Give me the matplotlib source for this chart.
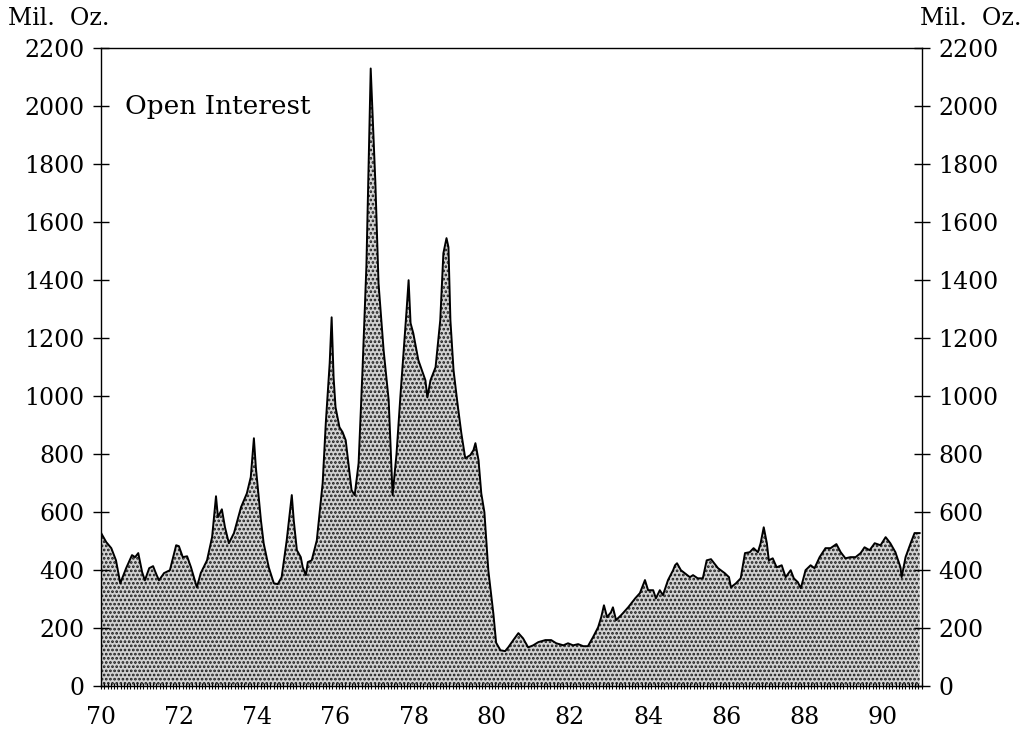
import numpy as np
import matplotlib
matplotlib.use("Agg")
import matplotlib.pyplot as plt

plt.rcParams['font.family'] = ['DejaVu Serif']
plt.rcParams['hatch.linewidth'] = 1.3

# open interest, million ounces
years = [70.00, 70.13, 70.26, 70.38, 70.49, 70.64, 70.79, 70.87, 70.95, 71.05,
         71.12, 71.23, 71.33, 71.40, 71.48, 71.61, 71.76, 71.92, 71.99, 72.09,
         72.20, 72.30, 72.45, 72.55, 72.71, 72.84, 72.94, 72.99, 73.09, 73.17,
         73.27, 73.40, 73.58, 73.73, 73.83, 73.91, 73.96, 74.09, 74.16, 74.29,
         74.42, 74.52, 74.62, 74.75, 74.88, 74.93, 75.01, 75.11, 75.16, 75.24,
         75.29, 75.39, 75.52, 75.67, 75.75, 75.85, 75.90, 75.95, 76.00, 76.10,
         76.18, 76.26, 76.33, 76.41, 76.49, 76.59, 76.69, 76.79, 76.90, 77.02,
         77.10, 77.23, 77.36, 77.46, 77.56, 77.66, 77.74, 77.82, 77.87, 77.92,
         77.99, 78.12, 78.30, 78.35, 78.43, 78.56, 78.68, 78.76, 78.84, 78.89,
         78.94, 79.02, 79.12, 79.22, 79.32, 79.45, 79.53, 79.58, 79.66, 79.73,
         79.81, 79.91, 80.04, 80.11, 80.22, 80.34, 80.42, 80.55, 80.68, 80.80,
         80.93, 81.06, 81.19, 81.37, 81.52, 81.65, 81.83, 81.95, 82.08, 82.21,
         82.34, 82.46, 82.59, 82.72, 82.80, 82.87, 82.95, 83.05, 83.10, 83.18,
         83.31, 83.49, 83.67, 83.79, 83.92, 84.00, 84.13, 84.20, 84.30, 84.38,
         84.51, 84.64, 84.69, 84.74, 84.84, 85.07, 85.15, 85.27, 85.40, 85.50,
         85.61, 85.79, 85.96, 86.07, 86.12, 86.25, 86.37, 86.48, 86.60, 86.70,
         86.81, 86.88, 86.96, 87.04, 87.09, 87.19, 87.29, 87.42, 87.52, 87.65,
         87.73, 87.83, 87.91, 88.03, 88.16, 88.26, 88.39, 88.54, 88.67, 88.82,
         88.93, 89.05, 89.18, 89.31, 89.44, 89.54, 89.67, 89.80, 89.95, 90.08,
         90.20, 90.33, 90.46, 90.49, 90.59, 90.72, 90.82, 90.87, 90.95]
open_interest = [528, 497, 476, 434, 355, 407, 452, 445, 459, 393,
                 365, 407, 414, 390, 365, 390, 400, 486, 483, 445,
                 448, 410, 341, 390, 434, 514, 655, 583, 610, 548,
                 493, 528, 617, 665, 721, 855, 755, 572, 493, 410,
                 355, 352, 376, 503, 659, 572, 469, 445, 410, 383,
                 428, 434, 503, 700, 907, 1114, 1272, 1065, 962, 893,
                 876, 848, 769, 676, 659, 769, 1090, 1450, 2130, 1734,
                 1390, 1159, 986, 659, 800, 1000, 1150, 1300, 1400, 1252,
                 1217, 1124, 1055, 996, 1055, 1100, 1262, 1493, 1545, 1514,
                 1262, 1090, 976, 872, 786, 797, 814, 838, 779, 665,
                 600, 400, 250, 150, 124, 121, 134, 159, 183, 165,
                 134, 141, 152, 159, 159, 148, 141, 148, 141, 145,
                 138, 138, 169, 203, 238, 279, 238, 255, 272, 228,
                 245, 272, 303, 321, 366, 331, 331, 303, 331, 314,
                 366, 400, 417, 424, 400, 376, 383, 372, 372, 434,
                 438, 407, 390, 376, 341, 355, 372, 459, 462, 476,
                 462, 493, 548, 493, 434, 441, 410, 417, 376, 400,
                 372, 359, 338, 400, 417, 407, 445, 476, 476, 490,
                 462, 441, 445, 445, 459, 479, 469, 493, 486, 514,
                 493, 462, 410, 376, 445, 493, 528, 528, 528]

year_labels = ['70', '72', '74', '76', '78', '80', '82', '84', '86', '88', '90']
y_ticks = list(range(0, 2201, 200))

fig = plt.figure(figsize=(10.32, 7.30), dpi=100)
ax = fig.add_axes([0.098, 0.060, 0.795, 0.874])

ax.fill_between(years, open_interest, 0, facecolor='#d2d2d2', edgecolor='#1a1a1a',
                hatch='....', linewidth=0)
ax.plot(years, open_interest, color='black', lw=1.4)

ax.set_xlim(70, 91)
ax.set_ylim(0, 2200)
ax.set_xticks([int(s) for s in year_labels])
ax.set_xticklabels(year_labels)
ax.set_xticks(np.arange(70, 91.001, 1 / 12), minor=True)
ax.set_yticks(y_ticks)
ax.set_yticklabels([str(v) for v in y_ticks])

ax.tick_params(axis='x', which='both', direction='inout', length=5, width=0.8,
               labelsize=17, pad=12)
ax.tick_params(axis='y', which='major', direction='inout', length=12, width=1,
               labelsize=17, pad=6, left=True, right=True,
               labelleft=True, labelright=True)
for s in ax.spines.values():
    s.set_linewidth(1.0)

ax.text(70.6, 2000, 'Open Interest', fontsize=19, va='center', ha='left')
fig.text(0.008, 0.975, 'Mil.  Oz.', fontsize=17, va='center', ha='left')
fig.text(0.990, 0.975, 'Mil.  Oz.', fontsize=17, va='center', ha='right')

fig.savefig('out.png', dpi=100)
